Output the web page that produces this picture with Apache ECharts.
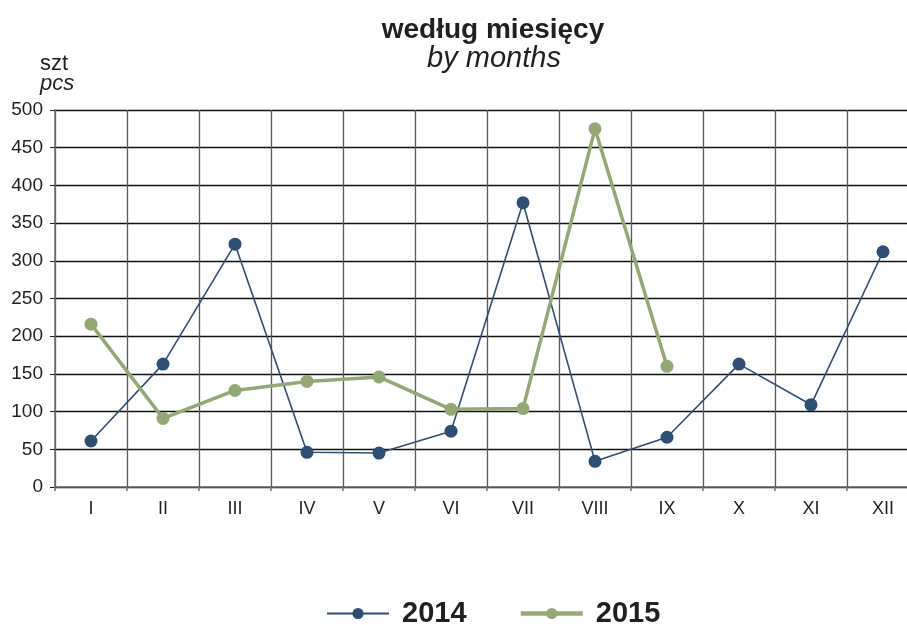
<!DOCTYPE html>
<html>
<head>
<meta charset="utf-8">
<script src="https://cdn.jsdelivr.net/npm/echarts@6/dist/echarts.min.js"></script>
<style>
  html, body { margin: 0; padding: 0; background: #fff; overflow: hidden; }
  #chart { width: 919px; height: 625px; }
</style>
</head>
<body>
<div id="chart"></div>
<script>
let months = ["I", "II", "III", "IV", "V", "VI", "VII", "VIII", "IX", "X", "XI", "XII"];
let values2014 = [61, 163, 322, 46, 45, 74, 377, 34, 66, 163, 109, 312];
let values2015 = [216, 91, 128, 140, 146, 103, 104, 475, 160, null, null, null];

// the plot runs past the right edge of the 907px window, as in the original
let myChart = echarts.init(document.getElementById('chart'));
let font = "'Liberation Sans', Arial, sans-serif";

let option = {
    animation: false,
    textStyle: { fontFamily: font },
    title: [
        {
            text: "według miesięcy",
            left: 493, top: 16, textAlign: "center", padding: 0,
            textStyle: { fontSize: 28, fontWeight: "bold", color: "#231f20", fontFamily: font }
        },
        {
            text: "by months",
            left: 494, top: 44, textAlign: "center", padding: 0,
            textStyle: { fontSize: 29, fontStyle: "italic", fontWeight: "normal", color: "#231f20", fontFamily: font }
        },
        {
            text: "szt",
            left: 40, top: 53, padding: 0,
            textStyle: { fontSize: 22, fontWeight: "normal", color: "#231f20", fontFamily: font }
        },
        {
            text: "pcs",
            left: 40, top: 73, padding: 0,
            textStyle: { fontSize: 22, fontStyle: "italic", fontWeight: "normal", color: "#231f20", fontFamily: font }
        }
    ],
    legend: {
        top: 594,
        left: 321,
        itemWidth: 62,
        itemHeight: 14,
        itemGap: 52,
        textStyle: { fontSize: 29, fontWeight: "bold", color: "#231f20", fontFamily: font, padding: [0, 0, 0, 8] },
        data: [
            { name: "2014", lineStyle: { width: 2 } },
            { name: "2015", lineStyle: { width: 4.5 } }
        ]
    },
    grid: { left: 55, right: 0, top: 110, bottom: 138 },
    xAxis: {
        type: "category",
        data: months,
        boundaryGap: true,
        axisLine: { lineStyle: { color: "#6d6e70", width: 1.5 } },
        axisTick: { show: true, length: 4, lineStyle: { color: "#6d6e70", width: 1.5 } },
        axisLabel: { fontSize: 18, color: "#231f20", margin: 13 },
        splitLine: { show: true, lineStyle: { color: "#58595b", width: 1.3 } }
    },
    yAxis: {
        type: "value",
        min: 0, max: 500, interval: 50,
        axisLine: { show: true, lineStyle: { color: "#6d6e70", width: 1.5 } },
        axisTick: { show: true, length: 5, lineStyle: { color: "#231f20" } },
        axisLabel: { fontSize: 19, color: "#231f20", margin: 12 },
        splitLine: { show: true, lineStyle: { color: "#111", width: 1.3 } }
    },
    series: [
        {
            name: "2014",
            type: "line",
            data: values2014,
            symbol: "circle",
            symbolSize: 13,
            itemStyle: { color: "#2f4f72" },
            lineStyle: { color: "#2f4f72", width: 1.6 },
            z: 3
        },
        {
            name: "2015",
            type: "line",
            data: values2015,
            symbol: "circle",
            symbolSize: 13,
            itemStyle: { color: "#93a875" },
            lineStyle: { color: "#93a875", width: 3.5 },
            z: 4
        }
    ]
};
myChart.setOption(option);
</script>
</body>
</html>
